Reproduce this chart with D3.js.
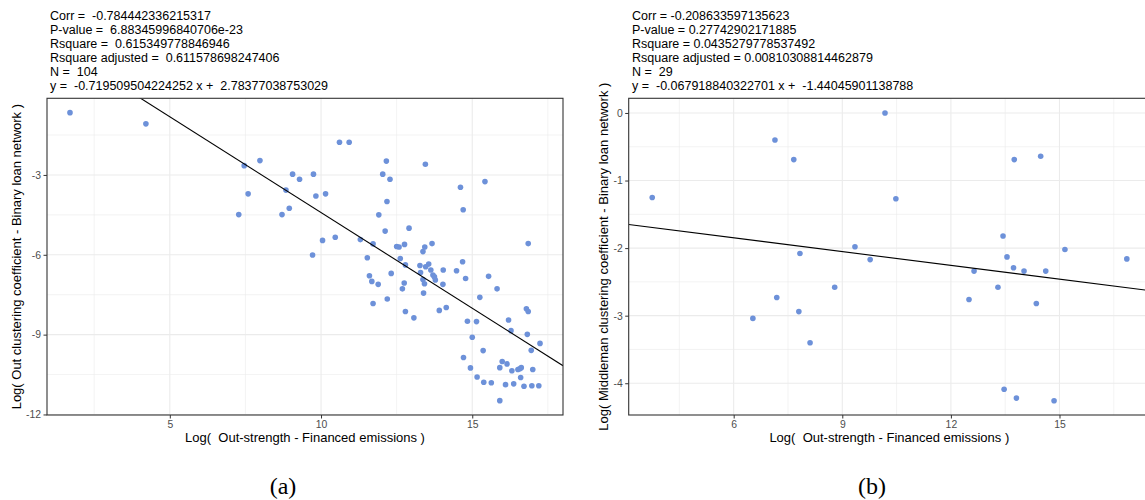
<!DOCTYPE html>
<html><head><meta charset="utf-8">
<script src="https://cdn.jsdelivr.net/npm/d3@7"></script>
<style>body{margin:0;background:#fff} svg{display:block} text{font-family:"Liberation Sans",Arial,sans-serif}</style>
</head><body><svg id="c" width="1145" height="500"></svg>
<script>
// ---- Panel (a) data ----
const aX = [1.70,4.21,7.46,7.98,7.59,7.28,9.06,9.29,8.84,8.95,8.71,9.75,9.83,10.15,10.61,10.93,12.16,12.04,12.28,12.18,11.91,12.12,12.91,13.45,14.61,15.42,14.70,16.85,9.72,10.05,10.47,11.30,11.72,11.53,12.50,12.58,12.76,13.43,13.37,13.67,12.62,12.79,13.27,13.56,13.46,13.63,13.29,13.70,13.75,13.78,14.04,14.48,14.68,11.60,11.68,11.89,12.32,12.75,12.69,13.37,13.42,14.03,14.78,15.54,15.82,11.72,12.19,12.79,13.07,13.39,13.91,14.14,15.25,14.84,15.14,15.00,15.36,14.71,14.94,15.16,15.38,15.63,15.91,15.99,16.15,15.91,16.31,16.51,16.57,16.62,16.60,17.00,16.10,16.37,16.71,16.97,17.20,16.20,16.28,16.79,16.85,16.82,17.24,16.95];
const aY = [-0.66,-1.08,-2.65,-2.46,-3.71,-4.49,-2.97,-3.16,-3.57,-4.25,-4.49,-2.97,-3.79,-3.71,-1.77,-1.77,-2.48,-2.97,-3.16,-4.00,-4.50,-5.11,-5.00,-2.60,-3.46,-3.25,-4.31,-5.58,-6.01,-5.46,-5.34,-5.43,-5.59,-6.11,-5.69,-5.71,-5.61,-5.71,-5.88,-5.58,-6.14,-6.38,-6.40,-6.35,-6.45,-6.57,-6.67,-6.76,-6.83,-6.95,-6.57,-6.60,-6.26,-6.79,-7.00,-7.11,-6.70,-7.06,-7.28,-6.93,-7.09,-7.11,-6.89,-6.81,-7.28,-7.83,-7.66,-8.13,-8.37,-7.44,-8.09,-7.98,-7.60,-8.50,-8.51,-9.10,-9.60,-9.86,-10.25,-10.59,-10.79,-10.81,-11.48,-10.01,-10.10,-10.24,-10.36,-10.31,-10.28,-10.24,-10.61,-10.31,-10.88,-10.85,-10.94,-10.92,-10.92,-8.45,-8.85,-8.03,-8.13,-8.99,-9.33,-9.59];
const aStats = ["Corr =  -0.784442336215317","P-value =  6.88345996840706e-23","Rsquare =  0.615349778846946","Rsquare adjusted =  0.611578698247406","N =  104","y =  -0.719509504224252 x +  2.78377038753029"];
const aSlope = -0.719509504224252, aIntercept = 2.78377038753029;
const aXTicks = [5,10,15], aXMinor = [2.5,7.5,12.5,17.5];
const aYTicks = [-12,-9,-6,-3], aYMinor = [-10.5,-7.5,-4.5,-1.5];
const aYTitle = "Log( Out clustering coefficient - Binary loan network )";

// ---- Panel (b) data ----
const bX = [3.75,7.14,7.66,7.83,9.35,9.77,8.79,10.18,10.48,13.75,14.48,13.44,13.55,15.15,16.86,12.64,13.73,14.02,14.62,13.30,7.19,7.80,6.53,8.11,12.50,14.36,13.47,13.81,14.85];
const bY = [-1.25,-0.40,-0.69,-2.08,-1.98,-2.17,-2.58,0.00,-1.27,-0.69,-0.64,-1.82,-2.13,-2.02,-2.16,-2.34,-2.29,-2.34,-2.34,-2.58,-2.73,-2.94,-3.04,-3.40,-2.76,-2.82,-4.09,-4.22,-4.26];
const bStats = ["Corr = -0.208633597135623","P-value = 0.27742902171885","Rsquare = 0.0435279778537492","Rsquare adjusted = 0.00810308814462879","N =  29","y =  -0.067918840322701 x +  -1.44045901138788"];
const bSlope = -0.067918840322701, bIntercept = -1.44045901138788;
const bXTicks = [6,9,12,15], bXMinor = [4.5,7.5,10.5,13.5,16.5];
const bYTicks = [-4,-3,-2,-1,0], bYMinor = [-3.5,-2.5,-1.5,-0.5];
const bYTitle = "Log( Middleman clustering coefficient - Binary loan network )";

const xTitle = "Log(  Out-strength - Financed emissions )";

const svg = d3.select("#c");

function panel(cfg) {
  const {id, left, right, top, bottom, xDom, yDom, xs, ys, slope, intercept,
         xTicks, xMinor, yTicks, yMinor, yTitle, stats, caption, capX, yTitleX} = cfg;
  const x = d3.scaleLinear().domain(xDom).range([left, right]);
  const y = d3.scaleLinear().domain(yDom).range([bottom, top]);
  const g = svg.append("g");
  g.append("clipPath").attr("id", "clip" + id).append("rect")
    .attr("x", left).attr("y", top).attr("width", right - left).attr("height", bottom - top);
  const grid = g.append("g").attr("clip-path", `url(#clip${id})`);
  grid.selectAll(".mx").data(xMinor).join("line")
    .attr("x1", d => x(d)).attr("x2", d => x(d)).attr("y1", top).attr("y2", bottom)
    .attr("stroke", "#ebebeb").attr("stroke-width", 0.6);
  grid.selectAll(".my").data(yMinor).join("line")
    .attr("y1", d => y(d)).attr("y2", d => y(d)).attr("x1", left).attr("x2", right)
    .attr("stroke", "#ebebeb").attr("stroke-width", 0.6);
  grid.selectAll(".Mx").data(xTicks).join("line")
    .attr("x1", d => x(d)).attr("x2", d => x(d)).attr("y1", top).attr("y2", bottom)
    .attr("stroke", "#ebebeb").attr("stroke-width", 1.1);
  grid.selectAll(".My").data(yTicks).join("line")
    .attr("y1", d => y(d)).attr("y2", d => y(d)).attr("x1", left).attr("x2", right)
    .attr("stroke", "#ebebeb").attr("stroke-width", 1.1);

  const pts = xs.map((v, i) => [v, ys[i]]);
  grid.selectAll("circle").data(pts).join("circle")
    .attr("cx", d => x(d[0])).attr("cy", d => y(d[1])).attr("r", 2.8)
    .attr("fill", "#6d91d9");
  grid.append("line")
    .attr("x1", x(xDom[0])).attr("y1", y(slope * xDom[0] + intercept))
    .attr("x2", x(xDom[1])).attr("y2", y(slope * xDom[1] + intercept))
    .attr("stroke", "#000").attr("stroke-width", 1.1);

  g.append("rect").attr("x", left).attr("y", top).attr("width", right - left).attr("height", bottom - top)
    .attr("fill", "none").attr("stroke", "#333").attr("stroke-width", 1.1);

  // axes
  const xa = g.append("g").attr("transform", `translate(0,${bottom})`)
    .call(d3.axisBottom(x).tickValues(xTicks).tickSize(3.5).tickPadding(2.5).tickFormat(d3.format("d")));
  const ya = g.append("g").attr("transform", `translate(${left},0)`)
    .call(d3.axisLeft(y).tickValues(yTicks).tickSize(3.5).tickPadding(2.5).tickFormat(d => d < 0 ? "-" + Math.abs(d) : d));
  [xa, ya].forEach(a => {
    a.select(".domain").remove();
    a.selectAll(".tick line").attr("stroke", "#333").attr("stroke-width", 1);
    a.selectAll(".tick text").attr("fill", "#4d4d4d").style("font-size", "10.4px")
      .style("font-family", '"Liberation Sans",Arial,sans-serif');
  });

  g.append("text").attr("x", (left + right) / 2).attr("y", 442.3).attr("text-anchor", "middle")
    .attr("xml:space", "preserve").style("font-size", "13px").attr("fill", "#000").text(xTitle);
  g.append("text").attr("transform", `translate(${yTitleX},${(top + bottom) / 2}) rotate(-90)`)
    .attr("text-anchor", "middle").style("font-size", "13px").attr("fill", "#000").text(yTitle);

  g.selectAll(".stat").data(stats).join("text")
    .attr("x", cfg.statX).attr("y", (d, i) => 19.5 + i * 14)
    .attr("xml:space", "preserve").style("font-size", "12.5px").attr("fill", "#000").text(d => d);

  g.append("text").attr("x", capX).attr("y", 494).attr("text-anchor", "middle")
    .style("font-family", '"Liberation Serif","DejaVu Serif",serif').style("font-size", "24px")
    .attr("fill", "#000").text(caption);
}

panel({id: "a", left: 47, right: 563, top: 98.3, bottom: 415, xDom: [0.94, 18.0], yDom: [-12.02, -0.12],
  xs: aX, ys: aY, slope: aSlope, intercept: aIntercept, xTicks: aXTicks, xMinor: aXMinor,
  yTicks: aYTicks, yMinor: aYMinor, yTitle: aYTitle, stats: aStats, caption: "(a)", capX: 283,
  yTitleX: 21, statX: 50});
panel({id: "b", left: 628.7, right: 1150, top: 98.3, bottom: 415, xDom: [3.10, 17.5], yDom: [-4.47, 0.217],
  xs: bX, ys: bY, slope: bSlope, intercept: bIntercept, xTicks: bXTicks, xMinor: bXMinor,
  yTicks: bYTicks, yMinor: bYMinor, yTitle: bYTitle, stats: bStats, caption: "(b)", capX: 872,
  yTitleX: 608, statX: 632});
</script></body></html>
